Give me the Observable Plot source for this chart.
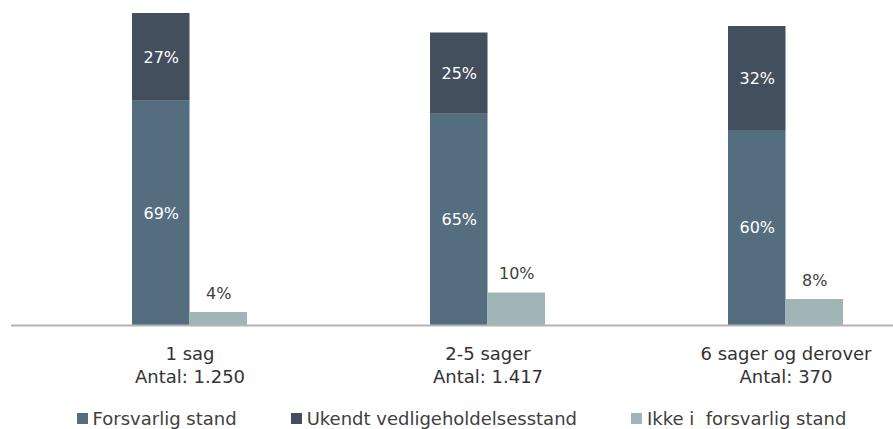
<!DOCTYPE html>
<html>
<head>
<meta charset="utf-8">
<script src="https://cdn.jsdelivr.net/npm/d3@7"></script>
<script src="https://cdn.jsdelivr.net/npm/@observablehq/plot@0.6"></script>
<style>
  html, body { margin: 0; padding: 0; background: #fff; }
  body { width: 893px; height: 429px; overflow: hidden; font-family: "DejaVu Sans", sans-serif; }
  #chart svg { display: block; }
  .legend { display: flex; justify-content: center; align-items: center; gap: 54px; height: 29px; margin-top: 4px; margin-left: 30px; font-size: 18px; color: #404040; white-space: pre; }
  .legend .item { display: flex; align-items: center; }
  .legend .sw { width: 11px; height: 11px; margin-right: 5px; display: inline-block; }
</style>
</head>
<body>
<div id="chart"></div>
<div class="legend" id="legend"></div>
<script>
const groups = ["1 sag\nAntal: 1.250", "2-5 sager\nAntal: 1.417", "6 sager og derover\nAntal: 370"];
const series = ["Forsvarlig stand", "Ukendt vedligeholdelsesstand", "Ikke i  forsvarlig stand"];
const colors = ["#546e80", "#444f5d", "#9fb5b6"];
const forsvarlig = [69, 65, 60];
const ukendt = [27, 25, 32];
const ikke = [4, 10, 8];

const stackData = [];
groups.forEach((g, i) => {
  stackData.push({group: g, series: series[0], value: forsvarlig[i]});
  stackData.push({group: g, series: series[1], value: ukendt[i]});
});
const ikkeData = groups.map((g, i) => ({group: g, series: series[2], value: ikke[i]}));

const bw = 115;
const plot = Plot.plot({
  width: 893,
  height: 400,
  marginLeft: 11,
  marginRight: 0,
  marginTop: 0,
  marginBottom: 75,
  style: {fontFamily: "DejaVu Sans, sans-serif", background: "#fff"},
  x: {domain: groups, range: [39.75, 935.25], paddingInner: 0.6147, paddingOuter: 0.30735},
  y: {domain: [0, 100], range: [325, 0], axis: null},
  color: {domain: series, range: colors},
  marks: [
    Plot.barY(stackData, {x: "group", y: "value", fill: "series", insetRight: bw / 2}),
    Plot.barY(ikkeData, {x: "group", y: "value", fill: "series", insetLeft: bw / 2}),
    Plot.text(stackData, Plot.stackY({x: "group", y: "value", text: d => d.value + "%", fill: "white", fontSize: 16, dx: -bw / 4})),
    Plot.text(ikkeData, {x: "group", y: "value", text: d => d.value + "%", fill: "#404040", fontSize: 16, dx: bw / 4, dy: -19}),
    Plot.ruleY([0], {stroke: "#b3b3b3", strokeWidth: 2}),
    Plot.axisX({tickSize: 0, tickPadding: 17, fontSize: 18, lineHeight: 1.33, fill: "#333", label: null})
  ]
});
document.getElementById("chart").appendChild(plot);

const legend = document.getElementById("legend");
series.forEach((s, i) => {
  const item = document.createElement("div");
  item.className = "item";
  const sw = document.createElement("span");
  sw.className = "sw";
  sw.style.background = colors[i];
  const t = document.createElement("span");
  t.textContent = s;
  item.appendChild(sw);
  item.appendChild(t);
  legend.appendChild(item);
});
</script>
</body>
</html>
